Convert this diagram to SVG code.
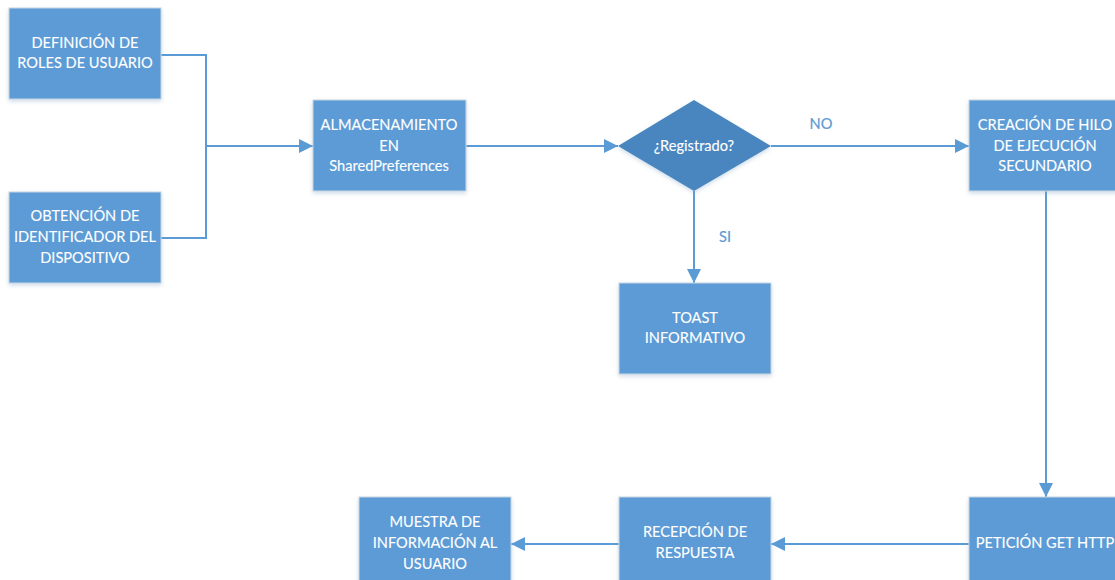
<svg xmlns="http://www.w3.org/2000/svg" width="1115" height="580" viewBox="0 0 1115 580">
  <style>
    .box { fill: #5B9BD5; stroke: #C9D6E3; stroke-width: 1; filter: url(#shadow); }
    .dec { fill: #4A86BF; filter: url(#shadow); }
    .lbl { font-family: Lato, "Noto Sans", sans-serif; font-size: 14.6px; fill: #FFFFFF; text-anchor: middle; stroke: #FFFFFF; stroke-width: 0.12; }
    .cond { font-family: Lato, "Noto Sans", sans-serif; font-size: 14.6px; fill: #5B9BD5; text-anchor: middle; stroke: #5B9BD5; stroke-width: 0.2; }
    .wire { fill: none; stroke: #5B9BD5; stroke-width: 2; }
  </style>
  <defs>
    <marker id="arrow" viewBox="0 0 10 10" refX="10" refY="5" markerWidth="14" markerHeight="14" orient="auto" markerUnits="userSpaceOnUse">
      <path d="M0,0 L10,5 L0,10 z" fill="#5B9BD5"/>
    </marker>
    <filter id="shadow" x="-10%" y="-10%" width="120%" height="130%">
      <feDropShadow dx="0" dy="2" stdDeviation="2" flood-color="#7A9CC0" flood-opacity="0.35"/>
    </filter>
  </defs>
  <rect width="1115" height="580" fill="#FFFFFF"/>

  <g id="connectors">
    <polyline class="wire" points="161,55 206,55 206,238 161,238"/>
    <line class="wire" x1="206" y1="146" x2="313" y2="146" marker-end="url(#arrow)"/>
    <line class="wire" x1="466" y1="146" x2="618" y2="146" marker-end="url(#arrow)"/>
    <line class="wire" x1="771" y1="146" x2="969" y2="146" marker-end="url(#arrow)"/>
    <line class="wire" x1="694" y1="191" x2="694" y2="283" marker-end="url(#arrow)"/>
    <line class="wire" x1="1046" y1="191" x2="1046" y2="497" marker-end="url(#arrow)"/>
    <line class="wire" x1="969" y1="544" x2="771" y2="544" marker-end="url(#arrow)"/>
    <line class="wire" x1="619" y1="544" x2="511" y2="544" marker-end="url(#arrow)"/>
    <text class="cond" x="821" y="129">NO</text>
    <text class="cond" x="725" y="242">SI</text>
  </g>

  <g id="definicion-roles">
    <rect class="box" x="9" y="8" width="152" height="91"/>
    <text class="lbl" x="85" y="48">DEFINICIÓN DE</text>
    <text class="lbl" x="85" y="68">ROLES DE USUARIO</text>
  </g>

  <g id="obtencion-identificador">
    <rect class="box" x="9" y="192" width="152" height="91"/>
    <text class="lbl" x="85" y="221">OBTENCIÓN DE</text>
    <text class="lbl" x="85" y="242">IDENTIFICADOR DEL</text>
    <text class="lbl" x="85" y="263">DISPOSITIVO</text>
  </g>

  <g id="almacenamiento">
    <rect class="box" x="313" y="100" width="153" height="91"/>
    <text class="lbl" x="389" y="130">ALMACENAMIENTO</text>
    <text class="lbl" x="389" y="151">EN</text>
    <text class="lbl" x="389" y="171">SharedPreferences</text>
  </g>

  <g id="registrado">
    <polygon class="dec" points="694,100 771,146 694,191 618,146"/>
    <text class="lbl" x="694" y="151">¿Registrado?</text>
  </g>

  <g id="toast">
    <rect class="box" x="619" y="283" width="152" height="91"/>
    <text class="lbl" x="695" y="323">TOAST</text>
    <text class="lbl" x="695" y="343">INFORMATIVO</text>
  </g>

  <g id="creacion-hilo">
    <rect class="box" x="969" y="100" width="152" height="91"/>
    <text class="lbl" x="1045" y="130">CREACIÓN DE HILO</text>
    <text class="lbl" x="1045" y="151">DE EJECUCIÓN</text>
    <text class="lbl" x="1045" y="171">SECUNDARIO</text>
  </g>

  <g id="peticion-get">
    <rect class="box" x="969" y="497" width="152" height="91"/>
    <text class="lbl" x="1045" y="548">PETICIÓN GET HTTP</text>
  </g>

  <g id="recepcion-respuesta">
    <rect class="box" x="619" y="497" width="152" height="91"/>
    <text class="lbl" x="695" y="537">RECEPCIÓN DE</text>
    <text class="lbl" x="695" y="558">RESPUESTA</text>
  </g>

  <g id="muestra-informacion">
    <rect class="box" x="359" y="497" width="152" height="91"/>
    <text class="lbl" x="435" y="527">MUESTRA DE</text>
    <text class="lbl" x="435" y="548">INFORMACIÓN AL</text>
    <text class="lbl" x="435" y="569">USUARIO</text>
  </g>
</svg>
